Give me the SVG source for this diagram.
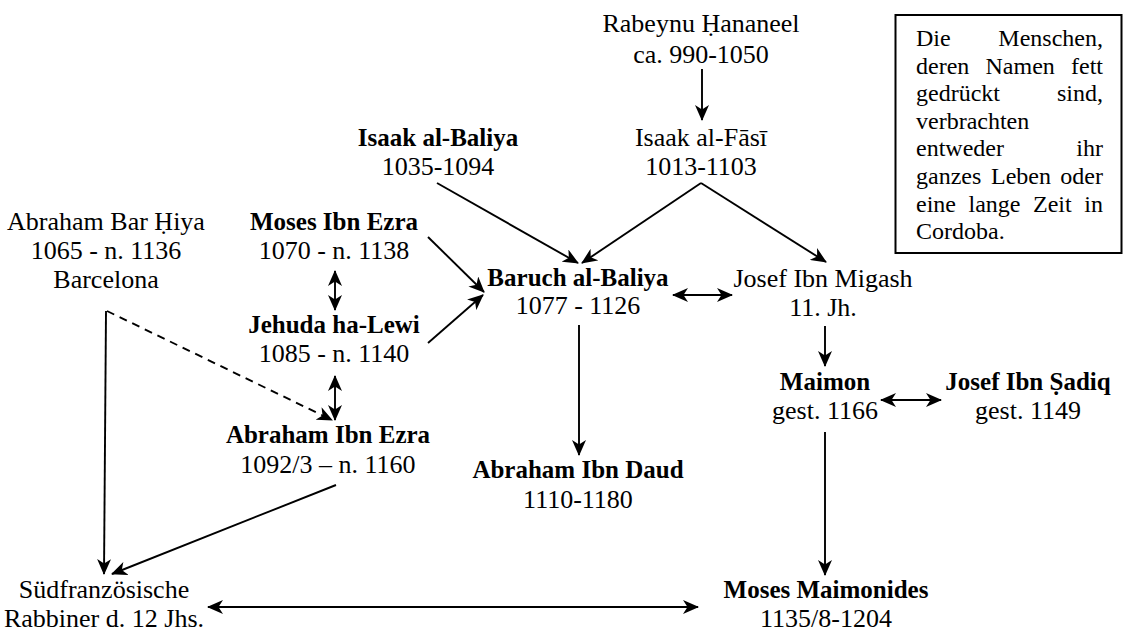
<svg xmlns="http://www.w3.org/2000/svg" width="1126" height="633" viewBox="0 0 1126 633">
  <defs>
    <marker id="ah" viewBox="0 0 16 14" refX="15" refY="7" markerWidth="16" markerHeight="14" markerUnits="userSpaceOnUse" orient="auto-start-reverse">
      <path d="M0,0 L16,7 L0,14 L4.5,7 z" fill="#000"/>
    </marker>
    <style>
      text { font-family: "Liberation Serif", "DejaVu Serif", serif; fill: #000; }
      .nm { font-size: 26px; text-anchor: middle; }
      .bd { font-size: 25px; font-weight: bold; text-anchor: middle; }
      .note { font-size: 24px; }
      .end { text-anchor: end; }
      .c { fill: none; stroke: #000; stroke-width: 1.9; }
      .one { marker-end: url(#ah); }
      .two { marker-start: url(#ah); marker-end: url(#ah); }
      .dash { stroke-dasharray: 8 6; }
    </style>
  </defs>
  <rect width="1126" height="633" fill="#fff"/>

  <!-- connectors -->
  <g id="connectors">
    <line class="c one" x1="702" y1="69" x2="702" y2="120"/>
    <line class="c one" x1="437" y1="183" x2="578" y2="263"/>
    <line class="c one" x1="701" y1="183" x2="582" y2="263"/>
    <line class="c one" x1="701" y1="183" x2="826" y2="262"/>
    <line class="c one" x1="428" y1="237" x2="484" y2="292"/>
    <line class="c one" x1="428" y1="343" x2="483" y2="295"/>
    <line class="c two" x1="335" y1="271" x2="335" y2="310"/>
    <line class="c two" x1="335" y1="376" x2="335" y2="420"/>
    <line class="c one" x1="106" y1="311" x2="104" y2="574"/>
    <line class="c one dash" x1="107" y1="311" x2="332" y2="420"/>
    <line class="c one" x1="336" y1="485" x2="112" y2="574"/>
    <line class="c two" x1="673" y1="295" x2="732" y2="295"/>
    <line class="c one" x1="579" y1="325" x2="579" y2="455"/>
    <line class="c one" x1="825" y1="326" x2="825" y2="366"/>
    <line class="c two" x1="881" y1="400" x2="941" y2="400"/>
    <line class="c one" x1="825" y1="432" x2="825" y2="575"/>
    <line class="c two" x1="208" y1="607" x2="698" y2="607"/>
  </g>

  <!-- people -->
  <g id="hananeel">
    <text class="nm" x="701" y="32">Rabeynu Ḥananeel</text>
    <text class="nm" x="701" y="63">ca. 990-1050</text>
  </g>
  <g id="alfasi">
    <text class="nm" x="701" y="146">Isaak al-Fāsī</text>
    <text class="nm" x="701" y="175">1013-1103</text>
  </g>
  <g id="isaak-albaliya">
    <text class="bd" x="438" y="146">Isaak al-Baliya</text>
    <text class="nm" x="438" y="175">1035-1094</text>
  </g>
  <g id="bar-hiya">
    <text class="nm" x="106" y="230">Abraham Bar Ḥiya</text>
    <text class="nm" x="106" y="259">1065 - n. 1136</text>
    <text class="nm" x="106" y="288">Barcelona</text>
  </g>
  <g id="moses-ibn-ezra">
    <text class="bd" x="334" y="230">Moses Ibn Ezra</text>
    <text class="nm" x="334" y="259">1070 - n. 1138</text>
  </g>
  <g id="jehuda">
    <text class="bd" x="334" y="333">Jehuda ha-Lewi</text>
    <text class="nm" x="334" y="362">1085 - n. 1140</text>
  </g>
  <g id="abraham-ibn-ezra">
    <text class="bd" x="328" y="443">Abraham Ibn Ezra</text>
    <text class="nm" x="328" y="473">1092/3 – n. 1160</text>
  </g>
  <g id="baruch">
    <text class="bd" x="578" y="286">Baruch al-Baliya</text>
    <text class="nm" x="578" y="314">1077 - 1126</text>
  </g>
  <g id="migash">
    <text class="nm" x="823" y="287">Josef Ibn Migash</text>
    <text class="nm" x="823" y="316">11. Jh.</text>
  </g>
  <g id="maimon">
    <text class="bd" x="825" y="390">Maimon</text>
    <text class="nm" x="825" y="419">gest. 1166</text>
  </g>
  <g id="sadiq">
    <text class="bd" x="1028" y="390">Josef Ibn Ṣadiq</text>
    <text class="nm" x="1028" y="419">gest. 1149</text>
  </g>
  <g id="ibn-daud">
    <text class="bd" x="578" y="478">Abraham Ibn Daud</text>
    <text class="nm" x="578" y="508">1110-1180</text>
  </g>
  <g id="suedfrankreich">
    <text class="nm" x="104" y="598">Südfranzösische</text>
    <text class="nm" x="104" y="627">Rabbiner d. 12 Jhs.</text>
  </g>
  <g id="maimonides">
    <text class="bd" x="826" y="598">Moses Maimonides</text>
    <text class="nm" x="826" y="627">1135/8-1204</text>
  </g>

  <!-- legend -->
  <g id="legend">
    <rect x="895.5" y="15" width="226" height="238" fill="#fff" stroke="#000" stroke-width="2"/>
    <text class="note" x="916" y="46">Die</text>
    <text class="note end" x="1103" y="46">Menschen,</text>
    <text class="note" x="916" y="74">deren</text>
    <text class="note" x="985.5" y="74">Namen</text>
    <text class="note end" x="1103" y="74">fett</text>
    <text class="note" x="916" y="101">gedrückt</text>
    <text class="note end" x="1103" y="101">sind,</text>
    <text class="note" x="916" y="129">verbrachten</text>
    <text class="note" x="916" y="156">entweder</text>
    <text class="note end" x="1103" y="156">ihr</text>
    <text class="note" x="916" y="184">ganzes</text>
    <text class="note" x="991" y="184">Leben</text>
    <text class="note end" x="1103" y="184">oder</text>
    <text class="note" x="916" y="212">eine</text>
    <text class="note" x="968.5" y="212">lange</text>
    <text class="note" x="1033" y="212">Zeit</text>
    <text class="note end" x="1103" y="212">in</text>
    <text class="note" x="916" y="239">Cordoba.</text>
  </g>
</svg>
